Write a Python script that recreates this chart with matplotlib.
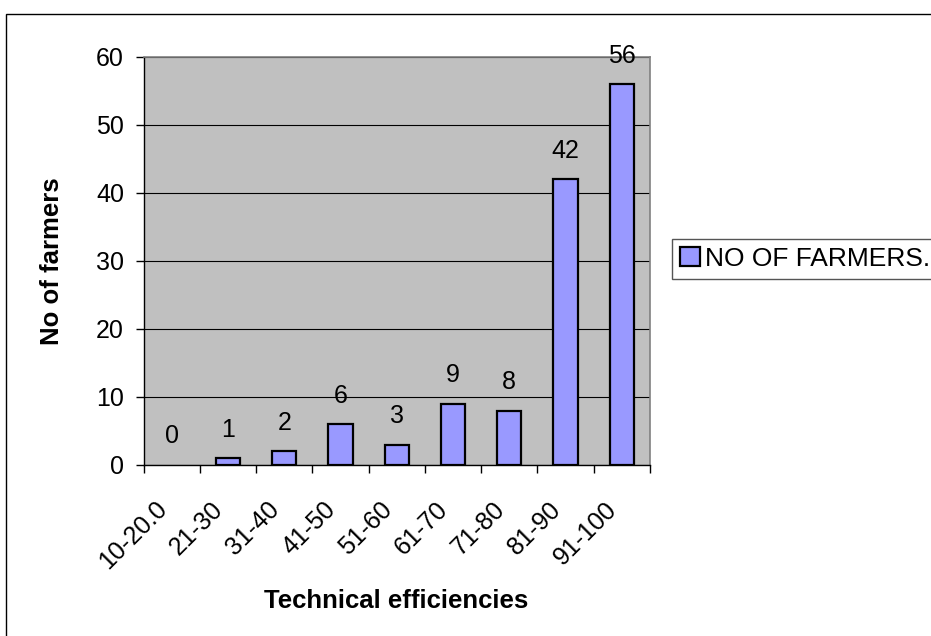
import matplotlib
matplotlib.use("Agg")
import matplotlib.pyplot as plt
import matplotlib.transforms as mtrans
import numpy as np
from matplotlib.patches import Rectangle

categories = ["10-20.0", "21-30", "31-40", "41-50", "51-60", "61-70", "71-80", "81-90", "91-100"]
values = [0, 1, 2, 6, 3, 9, 8, 42, 56]
series_name = "NO OF FARMERS."
yticks = [0, 10, 20, 30, 40, 50, 60]

plt.rcParams['font.family'] = ['Liberation Sans', 'DejaVu Sans']
FS = 18

W, H = 931, 636
fig = plt.figure(figsize=(W / 100, H / 100), dpi=100)
fig.patch.set_facecolor('white')

# outer frame
fig.patches.append(Rectangle((6 / W, -0.05), 1.1, 1 - 14 / H + 0.05, transform=fig.transFigure,
                             fill=False, edgecolor='black', linewidth=1.0))

left, right, top, bottom = 143.5, 650, 57, 465
ax = fig.add_axes([left / W, 1 - bottom / H, (right - left) / W, (bottom - top) / H])
ax.set_facecolor('#C0C0C0')

x = np.arange(len(categories))
bars = ax.bar(x, values, width=0.43, color='#9999FF', edgecolor='black', linewidth=1.6,
              label=series_name, zorder=3)

for xi, v in zip(x, values):
    ax.annotate(str(v), (xi, v), xytext=(0, 12), textcoords='offset points',
                ha='center', va='bottom', fontsize=FS, zorder=4)

ax.set_xlim(-0.5, len(categories) - 0.5)
ax.set_ylim(0, 60)
ax.set_yticks(yticks)
ax.yaxis.grid(True, color='black', linewidth=0.8, zorder=1)
ax.set_axisbelow(True)

ax.set_xticks(x)
ax.set_xticklabels(categories, rotation=45, ha='right', va='top', rotation_mode='anchor', fontsize=FS)
ax.set_xticks(np.arange(-0.5, len(categories)), minor=True)
ax.tick_params(axis='x', which='major', length=0, pad=23)
ax.tick_params(axis='x', which='minor', length=6, width=1, direction='out', color='black')
ax.tick_params(axis='y', length=6, width=1, direction='out', labelsize=FS, pad=8)
shift = mtrans.ScaledTranslation(-17 / 100, 0, fig.dpi_scale_trans)
for lab in ax.get_xticklabels():
    lab.set_transform(lab.get_transform() + shift)

for s in ['top', 'right']:
    ax.spines[s].set_color('#808080')
    ax.spines[s].set_linewidth(1.2)
for s in ['left', 'bottom']:
    ax.spines[s].set_color('black')
    ax.spines[s].set_linewidth(1.0)

fig.text(52 / W, 1 - 261 / H, "No of farmers", rotation=90, ha='center', va='center',
         fontsize=18.5, fontweight='bold')
fig.text(396 / W, 1 - 601 / H, "Technical efficiencies", ha='center', va='center',
         fontsize=18.5, fontweight='bold')

leg = ax.legend(loc='upper left', bbox_to_anchor=(672 / W, 1 - 239 / H), bbox_transform=fig.transFigure,
                borderaxespad=0, fancybox=False, framealpha=1, edgecolor='#555555', borderpad=0.3,
                handlelength=0.75, handleheight=0.75, handletextpad=0.2, fontsize=19)
leg.get_frame().set_linewidth(1.0)

# zero-height bar shows no outline
for b, v in zip(bars, values):
    if v == 0:
        b.set_linewidth(0)

fig.savefig("out.png", dpi=100, facecolor='white')
